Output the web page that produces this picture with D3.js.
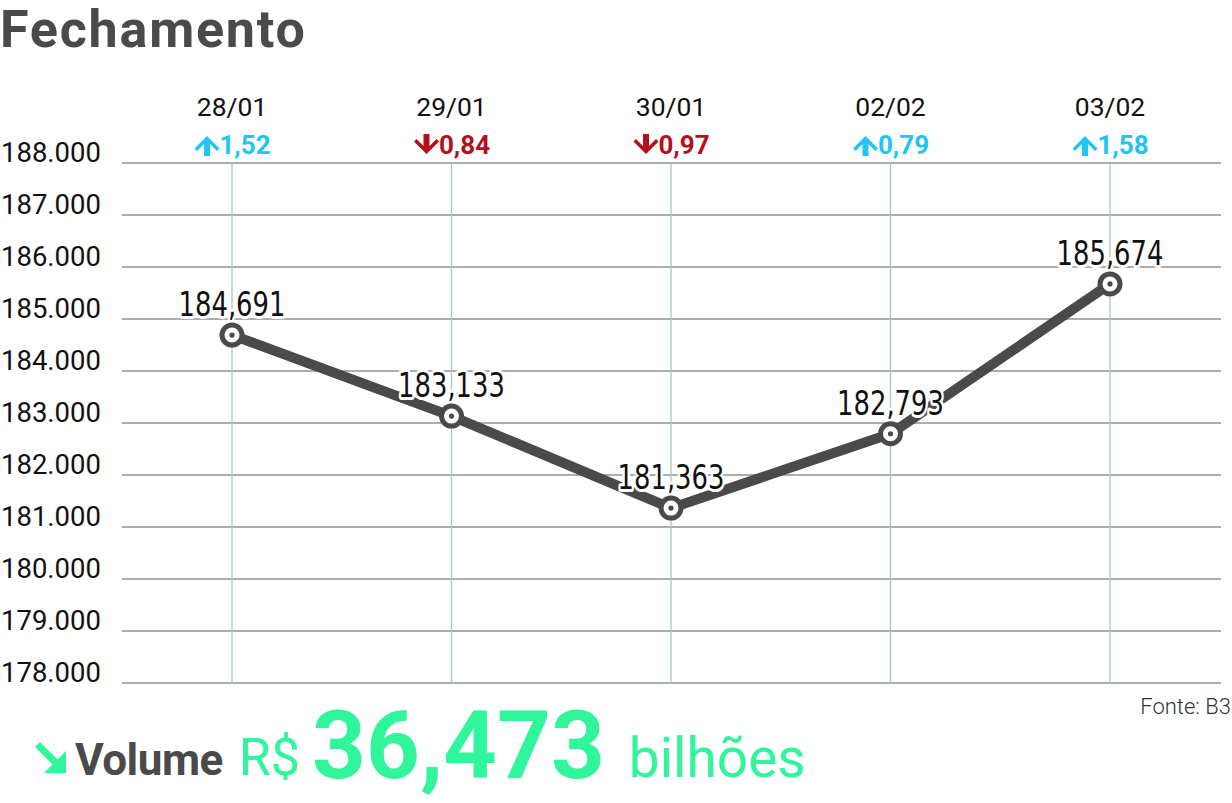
<!DOCTYPE html>
<html><head><meta charset="utf-8">
<script src="https://cdn.jsdelivr.net/npm/d3@7"></script>
<style>body{margin:0;background:#fff}svg{display:block}</style>
</head><body>
<svg id="c" width="1232" height="803"></svg>
<script>
const dates = ["28/01","29/01","30/01","02/02","03/02"];
const values = [184.691, 183.133, 181.363, 182.793, 185.674];
const valueLabels = ["184,691","183,133","181,363","182,793","185,674"];
const changes = [1.52, -0.84, -0.97, 0.79, 1.58];
const changeLabels = ["1,52","0,84","0,97","0,79","1,58"];
const yTicks = [178,179,180,181,182,183,184,185,186,187,188];
const yTickLabels = ["178.000","179.000","180.000","181.000","182.000","183.000","184.000","185.000","186.000","187.000","188.000"];

const svg = d3.select("#c");
const x = d3.scalePoint().domain(dates).range([232, 1110]);
const y = d3.scaleLinear().domain([178, 188]).range([683, 163]);

svg.append("text").attr("x", 0).attr("y", 47)
  .attr("font-family", "Roboto").attr("font-weight", 700).attr("font-size", 52)
  .attr("fill", "#4a4a4a").attr("letter-spacing", 1.8).text("Fechamento");

// horizontal grid
const gy = svg.append("g");
gy.selectAll("line").data(yTicks).join("line")
  .attr("x1", 122).attr("x2", 1221)
  .attr("y1", d => y(d)).attr("y2", d => y(d))
  .attr("stroke", "#8c9593").attr("stroke-width", 1.3);
gy.selectAll("text").data(yTicks).join("text")
  .attr("x", 1).attr("y", d => y(d) - 1)
  .attr("font-family", "Roboto").attr("font-size", 27.5).attr("fill", "#111")
  .text((d, i) => yTickLabels[i]);

// vertical grid
svg.append("g").selectAll("line").data(dates).join("line")
  .attr("x1", d => x(d)).attr("x2", d => x(d))
  .attr("y1", y(188)).attr("y2", y(178))
  .attr("stroke", "#a9c6c0").attr("stroke-width", 1.3);

// date labels
svg.append("g").selectAll("text").data(dates).join("text")
  .attr("x", d => x(d)).attr("y", 116).attr("text-anchor", "middle")
  .attr("font-family", "Roboto").attr("font-size", 26.5).attr("fill", "#111")
  .text(d => d);

// change labels with drawn arrows
const cg = svg.append("g").selectAll("g").data(changes).join("g")
  .attr("transform", (d, i) => `translate(${x(dates[i])},0)`)
  .attr("fill", d => d >= 0 ? "#22c4f2" : "#b4101c");
cg.append("text").attr("x", 13).attr("y", 154).attr("text-anchor", "middle")
  .attr("font-family", "Roboto").attr("font-weight", 700).attr("font-size", 26)
  .text((d, i) => changeLabels[i]);
cg.append("path").attr("transform", d => d >= 0 ? "translate(-25,146)" : "translate(-25,144) scale(1,-1)")
  .attr("d", "M-3,10 L-3,-2 L-10,5 L-12.5,2.5 L0,-10 L12.5,2.5 L10,5 L3,-2 L3,10 Z");

// line
const line = d3.line().x((d, i) => x(dates[i])).y(d => y(d));
svg.append("path").datum(values).attr("d", line)
  .attr("fill", "none").attr("stroke", "#4a4a4a").attr("stroke-width", 10)
  .attr("stroke-linejoin", "round");

// value labels with halo (condensed via horizontal scale)
svg.append("g").selectAll("text").data(values).join("text")
  .attr("transform", (d, i) => `translate(${x(dates[i])},${y(d) - 19}) scale(0.76,1)`)
  .attr("text-anchor", "middle")
  .attr("font-family", "'DejaVu Sans', sans-serif")
  .attr("font-size", 34).attr("fill", "#111")
  .attr("stroke", "#fff").attr("stroke-width", 6).attr("paint-order", "stroke")
  .attr("stroke-linejoin", "round")
  .text((d, i) => valueLabels[i]);

// markers
const mk = svg.append("g").selectAll("g").data(values).join("g")
  .attr("transform", (d, i) => `translate(${x(dates[i])},${y(d)})`);
mk.append("circle").attr("r", 10).attr("fill", "#fff").attr("stroke", "#4a4a4a").attr("stroke-width", 5);
mk.append("circle").attr("r", 2.6).attr("fill", "#4a4a4a");

// source
svg.append("text").attr("x", 1231).attr("y", 714).attr("text-anchor", "end")
  .attr("font-family", "Roboto").attr("font-weight", 300).attr("font-size", 22)
  .attr("fill", "#333").text("Fonte: B3");

// volume footer
const green = "#30f59a";
const ar = svg.append("g").attr("transform", "translate(36,743)");
ar.append("path").attr("d", "M4,4 L22,22").attr("stroke", green).attr("stroke-width", 7).attr("stroke-linecap", "square");
ar.append("path").attr("d", "M30,8 L30,30 L8,30 Z").attr("fill", green);

const ft = svg.append("text").attr("x", 75).attr("y", 775)
  .attr("font-family", "Roboto").attr("fill", green);
ft.append("tspan").attr("font-weight", 700).attr("font-size", 44).attr("fill", "#4a4a4a").attr("letter-spacing", -0.5).text("Volume");
ft.append("tspan").attr("dx", 16).attr("font-size", 52).text("R$");
ft.append("tspan").attr("dx", 12).attr("font-weight", 700).attr("font-size", 94).attr("dy", 3).text("36,473");
ft.append("tspan").attr("dx", 24).attr("font-size", 55).attr("dy", -1).text("bilhões");
</script>
</body></html>
